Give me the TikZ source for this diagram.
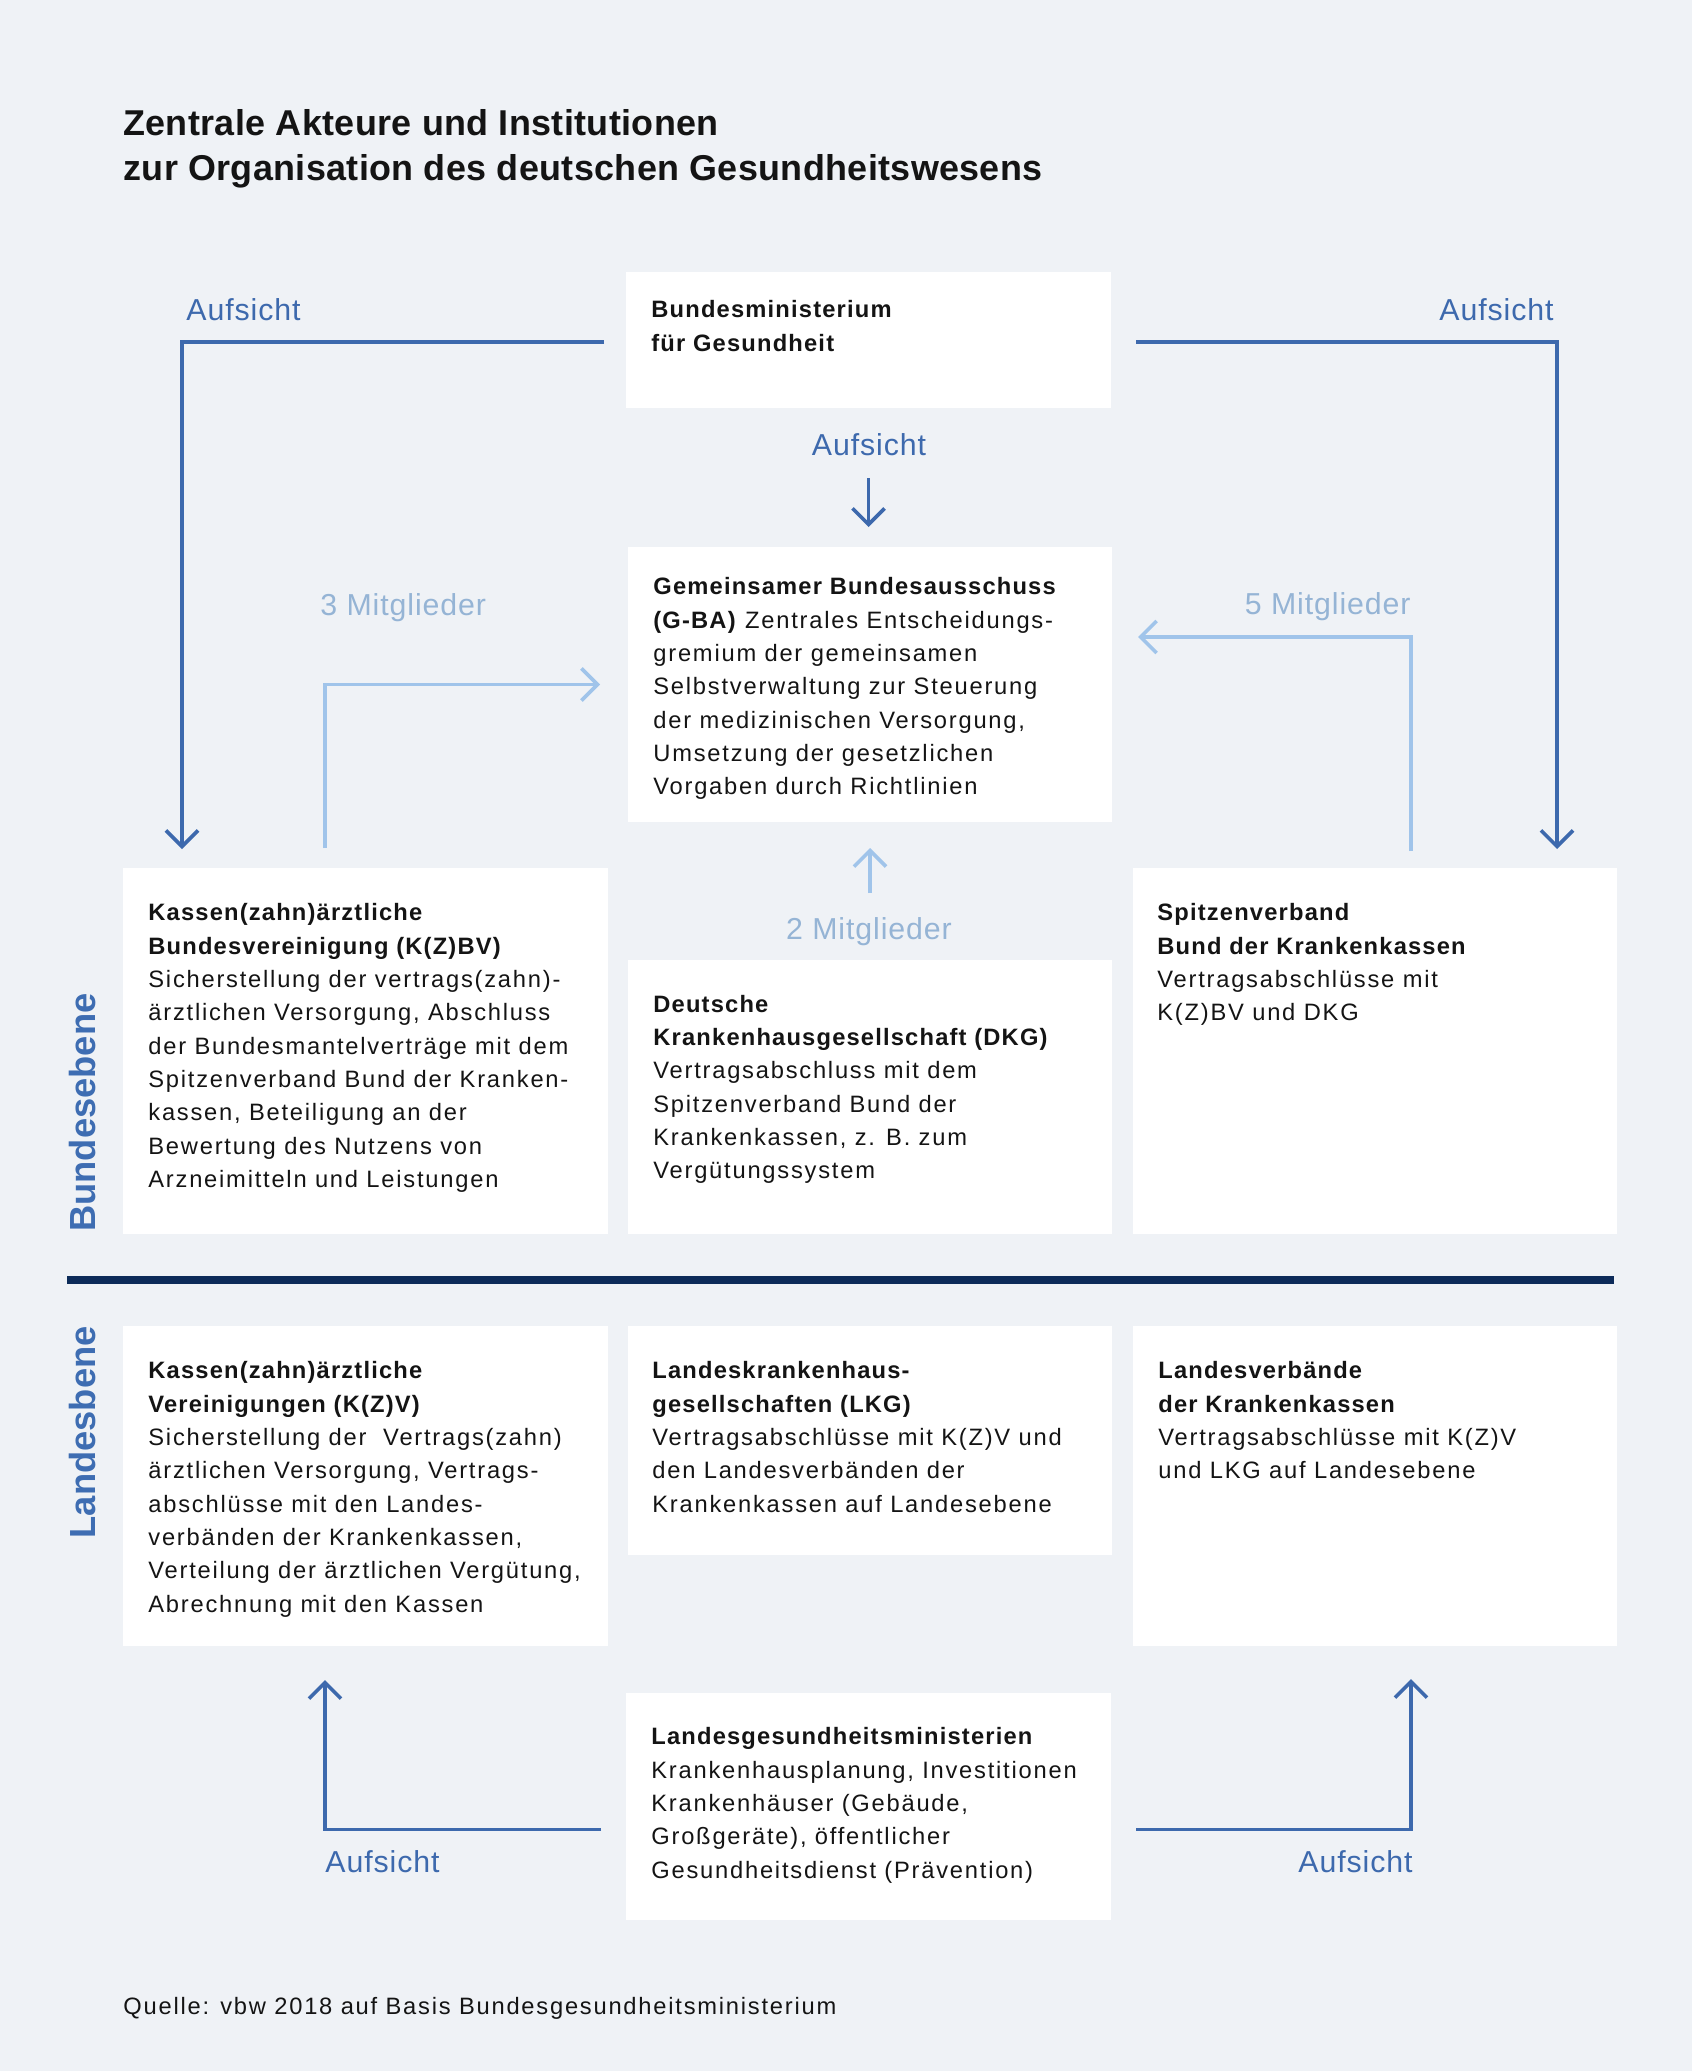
\documentclass[tikz,border=0pt]{standalone}
\usepackage{fontspec}
\setmainfont{Liberation Sans}[LetterSpace=7.5,BoldFeatures={LetterSpace=5}]
\newfontfamily\titlefont{Liberation Sans}[LetterSpace=1]
\newfontfamily\labfont{Liberation Sans}[LetterSpace=3]
\newfontfamily\sidefont{Liberation Sans}
\usetikzlibrary{arrows.meta}
\definecolor{bg}{HTML}{EFF2F6}
\definecolor{dblue}{HTML}{3D69AD}
\definecolor{lblue}{HTML}{A0C4EA}
\definecolor{sideblue}{HTML}{3E6DB2}
\definecolor{navy}{HTML}{0C2B59}
\definecolor{ink}{HTML}{141414}
\tikzset{
  box/.style={fill=white, draw=none, inner sep=0pt, outer sep=0pt, anchor=north west},
  boxtext/.style={anchor=north west, inner sep=0pt, align=left, text=ink,
    font=\fontsize{11.85pt}{16.67pt}\selectfont},
  lab/.style={inner sep=0pt, font=\labfont\fontsize{15.15pt}{18pt}\selectfont},
  darklab/.style={lab, text=dblue},
  lightlab/.style={lab, text=lblue!90!black!95},
  aufs/.style={draw=dblue, line width=1.8pt, -{Straight Barb[length=8pt,width=16pt]}},
  mitg/.style={draw=lblue, line width=1.8pt, -{Straight Barb[length=8pt,width=16pt]}},
  side/.style={inner sep=0pt, rotate=90, text=sideblue,
    font=\sidefont\bfseries\fontsize{18.15pt}{20pt}\selectfont},
}
\begin{document}
\begin{tikzpicture}[x=0.5pt, y=-0.5pt]
\useasboundingbox[fill=bg] (0,0) rectangle (1692,2071);

% title
\node[anchor=north west, inner sep=0pt, align=left, text=ink,
  font=\titlefont\bfseries\fontsize{17.95pt}{22.5pt}\selectfont] (title) at (123,103.5)
  {\strut Zentrale Akteure und Institutionen\\zur Organisation des deutschen Gesundheitswesens};

% boxes
\node[box, minimum width=242.5pt, minimum height=68pt] (BMG) at (626,272) {};
\node[box, minimum width=242pt, minimum height=137.5pt] (GBA) at (628,547) {};
\node[box, minimum width=242.5pt, minimum height=183pt] (KZBV) at (123,868) {};
\node[box, minimum width=242pt, minimum height=137pt] (DKG) at (628,960) {};
\node[box, minimum width=242pt, minimum height=183pt] (SPI) at (1133,868) {};
\node[box, minimum width=242.5pt, minimum height=160pt] (LKZV) at (123,1326) {};
\node[box, minimum width=242pt, minimum height=114.5pt] (LKG) at (628,1326) {};
\node[box, minimum width=242pt, minimum height=160pt] (LV) at (1133,1326) {};
\node[box, minimum width=242.5pt, minimum height=113.5pt] (LGM) at (626,1693) {};

% box texts
\node[boxtext] (BMGt) at (651,294) {\strut\textbf{Bundesministerium}\\\textbf{für Gesundheit}};
\node[boxtext] (GBAt) at (653,571) {\strut\textbf{Gemeinsamer Bundesausschuss}\\
  \textbf{(G-BA)} Zentrales Entscheidungs-\\gremium der gemeinsamen\\Selbstverwaltung zur Steuerung\\
  der medizinischen Versorgung,\\Umsetzung der gesetzlichen\\Vorgaben durch Richtlinien};
\node[boxtext] (KZBVt) at (148,897) {\strut\textbf{Kassen(zahn)ärztliche}\\\textbf{Bundesvereinigung (K(Z)BV)}\\
  Sicherstellung der vertrags(zahn)-\\ärztlichen Versorgung, Abschluss\\der Bundesmantelverträge mit dem\\
  Spitzenverband Bund der Kranken-\\kassen, Beteiligung an der\\Bewertung des Nutzens von\\Arzneimitteln und Leistungen};
\node[boxtext] (DKGt) at (653,988.5) {\strut\textbf{Deutsche}\\\textbf{Krankenhausgesellschaft (DKG)}\\
  Vertragsabschluss mit dem\\Spitzenverband Bund der\\Krankenkassen, z. B. zum\\Vergütungssystem};
\node[boxtext] (SPIt) at (1157,897) {\strut\textbf{Spitzenverband}\\\textbf{Bund der Krankenkassen}\\
  Vertragsabschlüsse mit\\K(Z)BV und DKG};
\node[boxtext] (LKZVt) at (148,1355) {\strut\textbf{Kassen(zahn)ärztliche}\\\textbf{Vereinigungen (K(Z)V)}\\
  Sicherstellung der \ Vertrags(zahn)\\ärztlichen Versorgung, Vertrags-\\abschlüsse mit den Landes-\\
  verbänden der Krankenkassen,\\Verteilung der ärztlichen Vergütung,\\Abrechnung mit den Kassen};
\node[boxtext] (LKGt) at (652,1355) {\strut\textbf{Landeskrankenhaus-}\\\textbf{gesellschaften (LKG)}\\
  Vertragsabschlüsse mit K(Z)V und\\den Landesverbänden der\\Krankenkassen auf Landesebene};
\node[boxtext] (LVt) at (1158,1355) {\strut\textbf{Landesverbände}\\\textbf{der Krankenkassen}\\
  Vertragsabschlüsse mit K(Z)V\\und LKG auf Landesebene};
\node[boxtext] (LGMt) at (651,1721) {\strut\textbf{Landesgesundheitsministerien}\\
  Krankenhausplanung, Investitionen\\Krankenhäuser (Gebäude,\\Großgeräte), öffentlicher\\Gesundheitsdienst (Prävention)};

% separator
\coordinate (sepL) at (67,1280);
\coordinate (sepR) at (1614,1280);
\draw[navy, line width=4pt] (sepL) -- (sepR);

% side labels
\node[side, anchor=base west] (bund) at (95,1232) {Bundesebene};
\node[side, anchor=base east] (land) at (95,1326) {Landesbene};

% connectors
\draw[aufs] ([shift={(-22,2)}]BMG.west) -| ([shift={(59,-19)}]KZBV.north west);
\draw[aufs] ([shift={(25,2)}]BMG.east) -| ([shift={(-60,-19)}]SPI.north east);
\draw[aufs] ([shift={(0,70)}]BMG.south) -- ([shift={(0,-20)}]BMG.south |- GBA.north);
\draw[mitg] ([shift={(202,-20)}]KZBV.north west) |- ([shift={(-28,0)}]GBA.west);
\draw[mitg] ([shift={(278,-17)}]SPI.north west) |- ([shift={(26,90)}]GBA.north east);
\draw[mitg] ([shift={(0,-67)}]DKG.north) -- ([shift={(0,26)}]DKG.north |- GBA.south);
\draw[aufs] ([shift={(-25,23)}]LGM.west) -| ([shift={(202,34)}]LKZV.south west);
\draw[aufs] ([shift={(25,23)}]LGM.east) -| ([shift={(278,33)}]LV.south west);

% connector labels
\node[darklab, anchor=base west] (a1) at (186,320) {Aufsicht};
\node[darklab, anchor=base east] (a2) at (1554,320) {Aufsicht};
\node[darklab, anchor=base] (a3) at (869,455) {Aufsicht};
\node[lightlab, anchor=base west] (m3) at (320,615) {3 Mitglieder};
\node[lightlab, anchor=base east] (m5) at (1411,614) {5 Mitglieder};
\node[lightlab, anchor=base] (m2) at (869,939) {2 Mitglieder};
\node[darklab, anchor=base west] (a4) at (325,1872) {Aufsicht};
\node[darklab, anchor=base east] (a5) at (1413,1872) {Aufsicht};

% source
\node[anchor=base west, inner sep=0pt, text=ink, font=\fontsize{11.85pt}{16.67pt}\selectfont] (src) at (123,2014)
  {Quelle: vbw 2018 auf Basis Bundesgesundheitsministerium};
\end{tikzpicture}
\end{document}
